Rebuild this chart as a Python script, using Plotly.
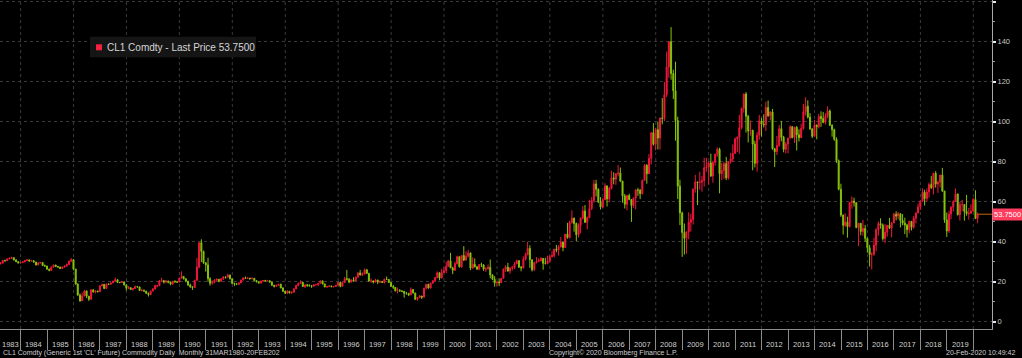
import pandas as pd
import plotly.graph_objects as go

# ---------------- data (monthly OHLC, CL1 Comdty, Jan 1983 .. Feb 2020) ----------------
opens = [
    31.7, 30.0, 29.0, 29.3, 30.6, 30.5, 31.4, 31.7, 32.0, 30.9, 30.0, 29.4,   # 1983
    29.6, 29.9, 30.6, 30.9, 30.3, 30.5, 29.8, 28.4, 29.4, 29.6, 28.1, 27.8,   # 1984
    26.3, 25.6, 27.3, 28.3, 27.6, 27.3, 26.6, 27.3, 27.8, 28.6, 30.3, 31.0,   # 1985
    26.3, 18.8, 13.3, 10.4, 12.9, 15.4, 12.8, 11.2, 15.9, 14.9, 15.3, 15.0,   # 1986
    17.9, 18.7, 16.6, 18.8, 18.7, 19.4, 20.3, 21.0, 19.6, 19.6, 19.9, 18.4,   # 1987
    16.7, 17.0, 16.1, 16.6, 17.5, 17.4, 15.6, 15.7, 15.3, 14.2, 13.5, 15.3,   # 1988
    16.3, 18.0, 18.0, 20.4, 20.5, 19.8, 20.3, 19.8, 18.8, 20.2, 19.9, 19.8,   # 1989
    21.8, 22.6, 21.5, 20.3, 18.4, 17.4, 17.1, 20.7, 27.3, 39.5, 35.2, 29.5,   # 1990
    28.4, 21.5, 19.2, 19.6, 20.8, 21.2, 20.2, 21.4, 22.3, 22.2, 23.3, 21.5,   # 1991
    19.1, 18.9, 18.7, 19.4, 20.8, 21.9, 21.7, 21.8, 21.5, 21.7, 20.6, 19.9,   # 1992
    19.5, 20.3, 20.6, 20.4, 20.5, 19.8, 18.2, 17.7, 18.2, 18.7, 16.9, 15.2,   # 1993
    14.2, 15.2, 14.5, 14.7, 16.4, 18.1, 19.1, 19.7, 17.6, 18.4, 18.2, 18.0,   # 1994
    17.8, 18.4, 18.5, 19.2, 20.4, 18.9, 17.4, 17.6, 17.8, 17.5, 17.6, 18.2,   # 1995
    19.6, 17.7, 19.5, 21.5, 21.2, 19.8, 20.9, 20.4, 22.3, 24.4, 23.4, 23.8,   # 1996
    25.9, 24.2, 20.3, 20.4, 19.8, 20.8, 19.8, 20.1, 19.6, 21.2, 21.1, 19.6,   # 1997
    17.6, 17.2, 15.4, 15.6, 15.4, 15.2, 14.2, 14.2, 13.4, 16.1, 14.4, 11.2,   # 1998
    12.1, 12.8, 12.3, 16.8, 18.7, 16.8, 19.3, 20.5, 22.1, 24.5, 21.8, 24.6,   # 1999
    25.6, 27.6, 30.4, 26.9, 25.7, 29.0, 32.5, 27.4, 33.1, 30.8, 32.7, 34.4,   # 2000
    26.8, 28.7, 27.4, 26.3, 28.5, 28.4, 26.3, 26.4, 27.2, 23.4, 21.2, 19.4,   # 2001
    19.8, 19.5, 21.7, 26.3, 27.3, 25.3, 26.9, 27.0, 28.9, 30.5, 27.2, 26.9,   # 2002
    31.2, 33.5, 36.6, 31.0, 26.0, 29.6, 30.2, 30.5, 31.6, 29.2, 29.1, 30.4,   # 2003
    32.5, 33.1, 36.2, 35.8, 37.4, 39.9, 37.1, 43.8, 42.1, 49.6, 51.8, 49.1,   # 2004
    43.5, 48.2, 51.8, 55.4, 49.7, 52.0, 56.5, 60.6, 68.9, 66.2, 59.8, 57.3,   # 2005
    61.0, 67.9, 61.4, 66.6, 71.9, 71.3, 74.0, 74.4, 70.3, 62.9, 58.7, 63.1,   # 2006
    61.1, 58.1, 61.8, 65.9, 65.7, 64.0, 70.7, 78.2, 74.0, 81.7, 94.5, 88.7,   # 2007
    96.0, 91.8, 101.8, 101.6, 113.5, 127.4, 140.0, 124.1, 115.5, 100.6, 67.8, 54.4,  # 2008
    44.6, 41.7, 44.8, 49.7, 51.1, 66.3, 69.9, 69.5, 69.9, 70.6, 77.0, 77.3,   # 2009
    79.4, 72.9, 79.7, 83.8, 86.2, 74.0, 75.6, 79.0, 71.9, 80.0, 81.4, 84.1,   # 2010
    91.4, 92.2, 97.0, 106.7, 113.9, 102.7, 95.4, 95.7, 88.8, 79.2, 93.2, 100.4,  # 2011
    98.8, 98.5, 107.1, 103.0, 104.9, 86.5, 85.0, 88.1, 96.5, 92.2, 86.2, 88.9,   # 2012
    91.8, 97.5, 92.1, 97.2, 93.5, 92.0, 96.6, 105.0, 107.7, 102.3, 96.4, 92.7,   # 2013
    98.4, 97.5, 102.6, 101.6, 99.7, 102.7, 105.4, 98.2, 96.0, 91.2, 80.5, 66.2,  # 2014
    53.3, 48.2, 49.8, 47.6, 59.6, 60.3, 59.5, 47.1, 49.2, 45.1, 46.6, 41.7,   # 2015
    37.0, 33.6, 33.8, 38.3, 45.9, 49.1, 48.3, 41.6, 44.7, 48.2, 46.9, 49.4,   # 2016
    53.7, 52.8, 54.0, 50.6, 49.3, 48.3, 46.0, 50.2, 47.2, 51.7, 54.4, 57.4,   # 2017
    60.4, 64.7, 61.6, 64.9, 68.6, 67.0, 74.2, 68.8, 69.8, 73.3, 65.3, 50.9,   # 2018
    45.4, 53.8, 57.2, 60.1, 63.9, 53.5, 58.5, 58.6, 55.1, 54.1, 54.2, 55.2,   # 2019
    61.1, 51.6,                                                               # 2020
]

highs = [
    32.0, 30.3, 29.9, 30.9, 31.0, 31.7, 32.1, 32.5, 32.2, 31.2, 30.3, 29.9,   # 1983
    30.2, 30.9, 31.3, 31.1, 30.9, 30.7, 29.9, 29.7, 29.9, 29.7, 28.6, 28.0,   # 1984
    26.5, 27.6, 28.6, 28.5, 27.9, 27.5, 27.6, 28.1, 29.1, 30.6, 31.8, 31.2,   # 1985
    26.5, 19.2, 14.1, 14.6, 16.0, 15.6, 12.9, 16.2, 16.3, 15.7, 15.6, 18.2,   # 1986
    19.0, 18.8, 19.0, 19.1, 19.7, 20.5, 22.1, 21.2, 19.9, 20.4, 20.0, 18.6,   # 1987
    17.8, 17.1, 16.8, 18.1, 17.9, 17.5, 16.5, 16.1, 15.4, 14.6, 15.5, 16.9,   # 1988
    18.5, 18.4, 20.8, 21.9, 20.9, 20.8, 20.5, 19.9, 20.4, 20.7, 20.2, 22.0,   # 1989
    25.2, 22.9, 21.7, 20.4, 19.0, 17.8, 21.0, 31.9, 39.6, 41.2, 35.5, 29.8,   # 1990
    32.0, 22.3, 20.6, 21.3, 21.6, 21.3, 21.8, 22.8, 22.6, 24.0, 23.5, 21.6,   # 1991
    19.5, 19.3, 19.6, 21.0, 22.1, 22.6, 22.3, 21.9, 22.1, 21.9, 20.8, 20.1,   # 1992
    20.5, 20.9, 20.9, 20.9, 20.6, 19.9, 18.4, 18.5, 18.9, 19.0, 17.2, 15.4,   # 1993
    15.7, 15.3, 15.1, 16.8, 18.3, 19.6, 20.7, 19.8, 18.6, 18.9, 18.7, 18.0,   # 1994
    18.7, 18.9, 19.3, 20.7, 20.6, 19.0, 17.9, 18.2, 18.1, 17.8, 18.4, 19.8,   # 1995
    20.1, 19.8, 22.4, 25.9, 21.9, 21.2, 22.2, 22.5, 24.7, 25.9, 24.7, 26.6,   # 1996
    26.4, 24.3, 21.6, 20.6, 21.4, 21.0, 20.6, 20.4, 21.5, 22.6, 21.3, 19.7,   # 1997
    18.4, 17.2, 17.0, 16.3, 15.7, 15.3, 14.9, 14.3, 17.1, 16.1, 14.4, 12.3,   # 1998
    13.3, 13.0, 16.9, 18.9, 18.9, 19.4, 20.7, 22.4, 25.2, 24.6, 26.4, 27.2,   # 1999
    30.0, 30.9, 34.4, 27.5, 30.0, 33.0, 32.6, 33.2, 37.8, 35.2, 36.0, 34.5,   # 2000
    32.2, 31.6, 27.9, 28.8, 29.5, 28.8, 27.3, 28.6, 31.1, 23.6, 22.8, 20.2,   # 2001
    21.6, 21.9, 26.6, 28.2, 29.4, 27.2, 27.9, 29.9, 31.0, 30.8, 27.9, 32.7,   # 2002
    34.5, 40.0, 38.2, 31.0, 29.8, 32.3, 31.7, 32.3, 31.9, 31.9, 33.0, 33.2,   # 2003
    35.2, 36.5, 38.4, 38.2, 42.3, 40.0, 43.8, 49.4, 50.5, 55.7, 52.0, 49.6,   # 2004
    49.2, 52.1, 57.7, 58.3, 52.6, 60.9, 62.3, 70.9, 70.9, 66.7, 62.3, 61.9,   # 2005
    69.2, 68.1, 67.4, 75.4, 74.7, 74.3, 78.4, 77.1, 70.4, 63.9, 63.3, 64.0,   # 2006
    61.1, 62.1, 66.2, 66.9, 66.4, 70.9, 78.8, 78.8, 83.9, 94.7, 99.3, 97.0,   # 2007
    100.1, 102.1, 111.8, 119.9, 135.1, 140.4, 147.3, 126.0, 130.0, 102.5, 71.0, 55.0,  # 2008
    49.1, 45.3, 54.7, 53.9, 66.6, 73.4, 70.1, 75.0, 72.9, 82.0, 82.0, 80.0,   # 2009
    84.0, 80.5, 83.9, 87.1, 87.0, 79.4, 80.0, 82.4, 80.1, 84.4, 88.6, 92.1,   # 2010
    92.6, 103.4, 107.0, 113.9, 114.8, 103.4, 100.6, 96.0, 90.5, 94.7, 103.4, 101.8,  # 2011
    103.7, 110.0, 110.6, 105.2, 106.4, 86.9, 92.9, 98.3, 100.4, 92.9, 89.9, 92.0,    # 2012
    98.2, 97.8, 97.4, 97.8, 96.2, 99.0, 108.9, 112.2, 110.7, 104.3, 96.8, 100.8,     # 2013
    98.4, 104.0, 105.2, 104.9, 104.3, 107.7, 106.1, 98.7, 96.5, 92.2, 81.1, 69.0,    # 2014
    53.6, 54.2, 52.5, 59.9, 62.6, 62.0, 59.7, 49.3, 49.3, 50.9, 48.4, 42.0,   # 2015
    38.4, 34.7, 41.9, 46.8, 50.2, 51.7, 49.1, 48.8, 48.3, 51.9, 49.9, 54.5,   # 2016
    55.2, 54.9, 54.0, 53.8, 52.0, 48.9, 50.4, 50.2, 52.9, 54.6, 59.1, 60.5,   # 2017
    66.7, 66.0, 66.6, 69.6, 72.9, 74.5, 75.3, 70.4, 73.5, 76.9, 65.4, 54.6,   # 2018
    55.4, 57.8, 60.7, 66.6, 63.9, 59.9, 60.9, 58.8, 63.4, 56.9, 58.7, 61.9,   # 2019
    65.7, 54.6,                                                               # 2020
]

lows = [
    29.6, 28.8, 28.6, 29.1, 30.0, 30.3, 31.1, 31.5, 30.6, 29.8, 29.1, 29.0,   # 1983
    29.3, 29.7, 30.4, 30.0, 30.1, 29.5, 28.1, 28.2, 29.1, 27.8, 27.4, 25.9,   # 1984
    25.2, 25.4, 27.1, 27.3, 27.0, 26.3, 26.4, 27.1, 27.6, 28.4, 29.8, 25.7,   # 1985
    18.5, 13.0, 10.0, 10.4, 12.6, 11.8, 10.4, 11.0, 14.5, 14.2, 14.7, 14.8,   # 1986
    17.7, 16.3, 16.4, 18.3, 18.6, 19.3, 20.2, 19.3, 19.2, 19.3, 18.1, 15.6,   # 1987
    16.3, 15.9, 15.5, 16.5, 17.1, 15.4, 15.1, 15.0, 13.9, 12.6, 13.3, 15.2,   # 1988
    16.2, 17.1, 17.9, 19.8, 19.1, 19.2, 19.2, 18.2, 18.6, 19.6, 19.4, 19.7,   # 1989
    21.5, 21.1, 19.7, 17.9, 17.0, 15.9, 16.8, 20.5, 26.7, 29.8, 28.9, 25.0,   # 1990
    20.0, 18.0, 18.6, 19.2, 20.4, 19.7, 20.0, 20.9, 21.6, 22.0, 21.1, 18.8,   # 1991
    17.9, 18.3, 18.5, 19.3, 20.6, 21.5, 21.4, 21.0, 21.2, 20.4, 19.6, 18.9,   # 1992
    18.9, 19.9, 20.2, 20.2, 19.5, 18.0, 17.1, 17.5, 17.9, 16.7, 14.9, 13.8,   # 1993
    14.0, 14.1, 13.9, 14.6, 16.3, 17.8, 19.0, 17.4, 16.8, 17.4, 17.5, 16.9,   # 1994
    17.5, 18.2, 17.9, 19.1, 18.6, 17.2, 16.9, 17.3, 17.3, 17.1, 17.5, 18.1,   # 1995
    17.2, 17.6, 19.4, 20.6, 19.2, 19.6, 20.1, 20.4, 22.0, 23.1, 22.8, 23.7,   # 1996
    23.9, 20.1, 19.5, 19.1, 19.7, 18.8, 19.3, 19.4, 19.1, 20.9, 19.4, 17.6,   # 1997
    16.4, 15.2, 14.2, 14.9, 14.8, 12.0, 13.5, 12.8, 13.3, 14.1, 10.9, 10.4,   # 1998
    11.7, 11.3, 12.0, 16.0, 16.5, 16.7, 18.9, 19.8, 21.6, 20.7, 21.7, 24.2,   # 1999
    24.2, 27.4, 26.8, 23.8, 25.4, 28.6, 27.2, 27.0, 30.3, 30.6, 32.2, 25.8,   # 2000
    26.4, 27.2, 25.8, 25.7, 27.3, 25.4, 24.9, 26.1, 21.7, 20.9, 17.5, 17.9,   # 2001
    17.8, 19.3, 21.6, 24.9, 25.0, 24.0, 25.6, 26.3, 28.9, 27.0, 25.2, 26.6,   # 2002
    30.5, 33.2, 26.9, 25.1, 25.4, 29.1, 29.8, 30.1, 26.0, 28.6, 28.7, 29.6,   # 2003
    32.2, 32.1, 34.7, 33.0, 37.1, 35.2, 36.8, 41.5, 41.6, 49.0, 45.0, 40.3,   # 2004
    42.1, 44.2, 51.1, 49.3, 46.2, 51.8, 55.8, 59.6, 62.6, 59.4, 56.1, 56.8,   # 2005
    60.8, 57.6, 59.6, 66.1, 68.7, 68.4, 72.7, 69.8, 59.5, 56.6, 55.7, 60.7,   # 2006
    49.9, 57.0, 56.2, 62.9, 61.3, 63.7, 70.4, 69.0, 73.8, 78.6, 88.1, 85.7,   # 2007
    86.1, 86.1, 98.7, 100.2, 112.3, 122.0, 121.0, 111.3, 90.5, 61.3, 48.3, 32.4,  # 2008
    33.6, 34.0, 41.3, 45.1, 48.6, 64.5, 58.3, 66.0, 65.1, 67.6, 75.0, 68.6,   # 2009
    72.4, 69.5, 78.0, 82.5, 64.2, 70.8, 71.4, 70.8, 71.0, 79.0, 79.9, 84.0,   # 2010
    84.9, 83.9, 96.2, 104.5, 94.6, 89.6, 93.0, 75.7, 77.1, 75.0, 91.0, 92.5,  # 2011
    97.1, 95.4, 102.4, 100.7, 86.0, 77.3, 83.3, 87.4, 90.2, 84.7, 84.1, 84.2, # 2012
    91.6, 91.7, 89.3, 85.6, 90.1, 91.8, 96.0, 103.1, 101.6, 95.9, 91.8, 92.7, # 2013
    91.2, 96.6, 97.4, 99.2, 98.6, 101.7, 97.8, 92.5, 90.4, 79.4, 65.7, 52.4,  # 2014
    43.6, 47.4, 42.0, 47.1, 56.5, 57.6, 46.7, 37.8, 43.2, 43.0, 39.9, 34.5,   # 2015
    27.6, 26.1, 32.9, 35.2, 43.0, 46.5, 40.6, 39.2, 42.5, 46.3, 42.2, 49.3,   # 2016
    50.7, 51.2, 47.1, 48.2, 43.8, 42.1, 44.2, 45.6, 46.5, 49.1, 54.2, 55.8,   # 2017
    59.9, 58.1, 59.9, 62.0, 66.3, 63.6, 67.0, 64.4, 67.1, 64.9, 49.4, 42.4,   # 2018
    44.4, 51.2, 55.1, 59.9, 53.1, 50.6, 55.3, 50.5, 53.0, 51.0, 54.0, 55.0,   # 2019
    51.3, 49.3,                                                               # 2020
]

closes = [
    30.0, 29.0, 29.3, 30.6, 30.5, 31.4, 31.7, 32.0, 30.9, 30.0, 29.4, 29.6,   # 1983
    29.9, 30.6, 30.9, 30.3, 30.5, 29.8, 28.4, 29.4, 29.6, 28.1, 27.8, 26.3,   # 1984
    25.6, 27.3, 28.3, 27.6, 27.3, 26.6, 27.3, 27.8, 28.6, 30.3, 31.0, 26.3,   # 1985
    18.8, 13.3, 10.4, 12.9, 15.4, 12.8, 11.2, 15.9, 14.9, 15.3, 15.0, 17.9,   # 1986
    18.7, 16.6, 18.8, 18.7, 19.4, 20.3, 21.0, 19.6, 19.6, 19.9, 18.4, 16.7,   # 1987
    17.0, 16.1, 16.6, 17.5, 17.4, 15.6, 15.7, 15.3, 14.2, 13.5, 15.3, 16.3,   # 1988
    18.0, 18.0, 20.4, 20.5, 19.8, 20.3, 19.8, 18.8, 20.2, 19.9, 19.8, 21.8,   # 1989
    22.6, 21.5, 20.3, 18.4, 17.4, 17.1, 20.7, 27.3, 39.5, 35.2, 29.5, 28.4,   # 1990
    21.5, 19.2, 19.6, 20.8, 21.2, 20.2, 21.4, 22.3, 22.2, 23.3, 21.5, 19.1,   # 1991
    18.9, 18.7, 19.4, 20.8, 21.9, 21.7, 21.8, 21.5, 21.7, 20.6, 19.9, 19.5,   # 1992
    20.3, 20.6, 20.4, 20.5, 19.8, 18.2, 17.7, 18.2, 18.7, 16.9, 15.2, 14.2,   # 1993
    15.2, 14.5, 14.7, 16.4, 18.1, 19.1, 19.7, 17.6, 18.4, 18.2, 18.0, 17.8,   # 1994
    18.4, 18.5, 19.2, 20.4, 18.9, 17.4, 17.6, 17.8, 17.5, 17.6, 18.2, 19.6,   # 1995
    17.7, 19.5, 21.5, 21.2, 19.8, 20.9, 20.4, 22.3, 24.4, 23.4, 23.8, 25.9,   # 1996
    24.2, 20.3, 20.4, 19.8, 20.8, 19.8, 20.1, 19.6, 21.2, 21.1, 19.6, 17.6,   # 1997
    17.2, 15.4, 15.6, 15.4, 15.2, 14.2, 14.2, 13.4, 16.1, 14.4, 11.2, 12.1,   # 1998
    12.8, 12.3, 16.8, 18.7, 16.8, 19.3, 20.5, 22.1, 24.5, 21.8, 24.6, 25.6,   # 1999
    27.6, 30.4, 26.9, 25.7, 29.0, 32.5, 27.4, 33.1, 30.8, 32.7, 34.4, 26.8,   # 2000
    28.7, 27.4, 26.3, 28.5, 28.4, 26.3, 26.4, 27.2, 23.4, 21.2, 19.4, 19.8,   # 2001
    19.5, 21.7, 26.3, 27.3, 25.3, 26.9, 27.0, 28.9, 30.5, 27.2, 26.9, 31.2,   # 2002
    33.5, 36.6, 31.0, 26.0, 29.6, 30.2, 30.5, 31.6, 29.2, 29.1, 30.4, 32.5,   # 2003
    33.1, 36.2, 35.8, 37.4, 39.9, 37.1, 43.8, 42.1, 49.6, 51.8, 49.1, 43.5,   # 2004
    48.2, 51.8, 55.4, 49.7, 52.0, 56.5, 60.6, 68.9, 66.2, 59.8, 57.3, 61.0,   # 2005
    67.9, 61.4, 66.6, 71.9, 71.3, 74.0, 74.4, 70.3, 62.9, 58.7, 63.1, 61.1,   # 2006
    58.1, 61.8, 65.9, 65.7, 64.0, 70.7, 78.2, 74.0, 81.7, 94.5, 88.7, 96.0,   # 2007
    91.8, 101.8, 101.6, 113.5, 127.4, 140.0, 124.1, 115.5, 100.6, 67.8, 54.4, 44.6,  # 2008
    41.7, 44.8, 49.7, 51.1, 66.3, 69.9, 69.5, 69.9, 70.6, 77.0, 77.3, 79.4,   # 2009
    72.9, 79.7, 83.8, 86.2, 74.0, 75.6, 79.0, 71.9, 80.0, 81.4, 84.1, 91.4,   # 2010
    92.2, 97.0, 106.7, 113.9, 102.7, 95.4, 95.7, 88.8, 79.2, 93.2, 100.4, 98.8,   # 2011
    98.5, 107.1, 103.0, 104.9, 86.5, 85.0, 88.1, 96.5, 92.2, 86.2, 88.9, 91.8,    # 2012
    97.5, 92.1, 97.2, 93.5, 92.0, 96.6, 105.0, 107.7, 102.3, 96.4, 92.7, 98.4,    # 2013
    97.5, 102.6, 101.6, 99.7, 102.7, 105.4, 98.2, 96.0, 91.2, 80.5, 66.2, 53.3,   # 2014
    48.2, 49.8, 47.6, 59.6, 60.3, 59.5, 47.1, 49.2, 45.1, 46.6, 41.7, 37.0,   # 2015
    33.6, 33.8, 38.3, 45.9, 49.1, 48.3, 41.6, 44.7, 48.2, 46.9, 49.4, 53.7,   # 2016
    52.8, 54.0, 50.6, 49.3, 48.3, 46.0, 50.2, 47.2, 51.7, 54.4, 57.4, 60.4,   # 2017
    64.7, 61.6, 64.9, 68.6, 67.0, 74.2, 68.8, 69.8, 73.3, 65.3, 50.9, 45.4,   # 2018
    53.8, 57.2, 60.1, 63.9, 53.5, 58.5, 58.6, 55.1, 54.1, 54.2, 55.2, 61.1,   # 2019
    51.6, 53.75,                                                              # 2020
]

label_years = list(range(1983, 2020))          # year captions under the axis
grid_years = list(range(1984, 2021, 2))        # dotted vertical grid every 2 years
boundary_years = list(range(1984, 2021))       # year separators
y_ticks = [0, 20, 40, 60, 80, 100, 120, 140, 160]

# ---------------- figure ----------------
dates = pd.date_range(start="1983-01-01", periods=len(closes), freq=pd.offsets.MonthEnd())
last_price = closes[-1]
last_date = dates[-1]

RED = "#f0183c"
GREEN = "#86c30a"

X0 = pd.Timestamp("1983-03-23")
X1 = pd.Timestamp("2020-09-15")

fig = go.Figure()
fig.add_trace(go.Candlestick(
    x=dates, open=opens, high=highs, low=lows, close=closes,
    increasing=dict(line=dict(color=RED, width=1), fillcolor=RED),
    decreasing=dict(line=dict(color=GREEN, width=1), fillcolor=GREEN),
    whiskerwidth=0, showlegend=False, hoverinfo="skip",
))

shapes = []
for yr in grid_years:
    shapes.append(dict(type="line", xref="x", yref="paper", x0=f"{yr}-01-01", x1=f"{yr}-01-01",
                       y0=0, y1=1, layer="below",
                       line=dict(color="#3a3a3a", width=1, dash="dot")))
# last-price connector
shapes.append(dict(type="line", xref="x", yref="y", x0=last_date, x1=X1,
                   y0=last_price, y1=last_price, line=dict(color="#c8640a", width=1)))
# legend box + swatch
W, H = 992.0, 329.0
def px(xp, yp):
    return xp / W, (H - yp) / H
lx0, ly0 = px(90, 57.3)
lx1, ly1 = px(256, 36.7)
shapes.append(dict(type="rect", xref="paper", yref="paper", x0=lx0, x1=lx1, y0=ly0, y1=ly1,
                   fillcolor="#151515", line=dict(width=0), layer="above"))
sx0, sy0 = px(96, 50.3)
sx1, sy1 = px(102, 44.3)
shapes.append(dict(type="rect", xref="paper", yref="paper", x0=sx0, x1=sx1, y0=sy0, y1=sy1,
                   fillcolor="#f5223f", line=dict(width=0), layer="above"))

annotations = []
tx, ty = px(104.5, 47.3)
annotations.append(dict(x=tx, y=ty, xref="paper", yref="paper", xanchor="left", yanchor="middle",
                        showarrow=False, text=f"CL1 Comdty - Last Price {last_price:.4f}",
                        font=dict(family="Liberation Sans, Arial", size=10, color="#d6d6d6")))
# year captions
for yr in label_years:
    s = max(pd.Timestamp(f"{yr}-01-01"), X0)
    e = min(pd.Timestamp(f"{yr + 1}-01-01"), X1)
    mid = s + (e - s) / 2
    annotations.append(dict(x=mid, y=-0.047, xref="x", yref="paper", xanchor="center",
                            yanchor="middle", showarrow=False, text=str(yr),
                            font=dict(family="Liberation Sans, Arial", size=7.5, color="#d0d0d0")))
# last price tag
annotations.append(dict(x=1.0, y=last_price, xref="paper", yref="y", xanchor="left", yanchor="middle",
                        showarrow=False, text=f"{last_price:.4f}", bgcolor="#ff3d5e", borderpad=1,
                        font=dict(family="Liberation Sans, Arial", size=7.5, color="#ffffff")))
# footer
foot = dict(family="Liberation Sans, Arial", size=7, color="#cfcfcf")
annotations.append(dict(x=0.001, y=-0.072, xref="paper", yref="paper", xanchor="left", yanchor="middle",
                        showarrow=False, font=foot,
                        text="CL1 Comdty (Generic 1st 'CL' Future) Commodity Daily\u00a0\u00a0Monthly 31MAR1980-20FEB202"))
annotations.append(dict(x=613.5 / W, y=-0.072, xref="paper", yref="paper", xanchor="center", yanchor="middle",
                        showarrow=False, font=foot, text="Copyright\u00a9 2020 Bloomberg Finance L.P."))
annotations.append(dict(x=1017 / W, y=-0.072, xref="paper", yref="paper", xanchor="right", yanchor="middle",
                        showarrow=False, font=foot, text="20-Feb-2020 10:49:42"))

fig.update_layout(
    width=1022, height=358,
    margin=dict(l=0, r=30, t=0, b=29, pad=0),
    paper_bgcolor="#000000", plot_bgcolor="#000000",
    showlegend=False,
    shapes=shapes, annotations=annotations,
    xaxis=dict(
        type="date", range=[X0, X1], rangeslider=dict(visible=False),
        tickmode="array", tickvals=[f"{y}-01-01" for y in boundary_years],
        ticktext=["" for _ in boundary_years], showticklabels=False,
        ticks="outside", ticklen=20, tickwidth=1, tickcolor="#8c8c8c",
        showline=True, linecolor="#8c8c8c", linewidth=1,
        showgrid=False, zeroline=False, automargin=False, fixedrange=True,
    ),
    yaxis=dict(
        side="right", range=[-3.65, 160.85],
        tickmode="array", tickvals=y_ticks,
        ticktext=[str(v) if v < 160 else "" for v in y_ticks],
        ticks="outside", ticklen=3, tickwidth=2, tickcolor="#e6e6e6",
        tickfont=dict(family="Liberation Sans, Arial", size=7.5, color="#c8c8c8"),
        minor=dict(dtick=10, tick0=0, ticks="outside", ticklen=2, tickwidth=1, tickcolor="#9a9a9a", showgrid=False),
        showline=True, linecolor="#a8a8a8", linewidth=1,
        showgrid=True, gridcolor="#3a3a3a", griddash="dot", gridwidth=1,
        zeroline=False, automargin=False, fixedrange=True,
    ),
)

fig.write_html(
    "out.html",
    config={"displayModeBar": False},
    post_script="document.body.style.margin='0';document.body.style.padding='0';document.body.style.overflow='hidden';",
)
